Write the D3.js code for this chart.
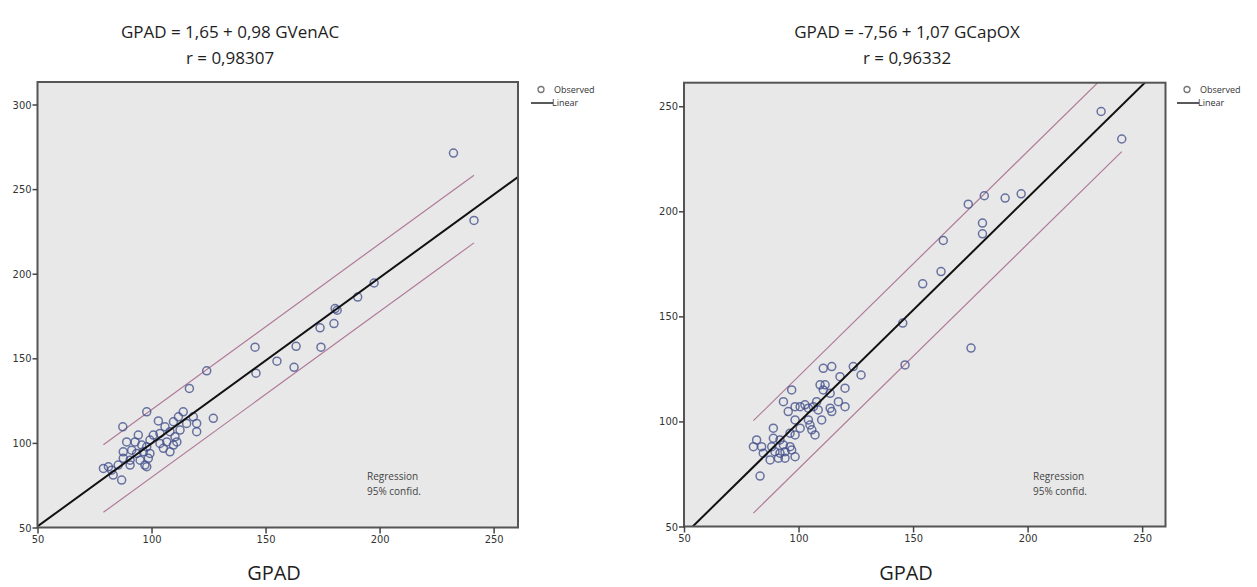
<!DOCTYPE html>
<html>
<head>
<meta charset="utf-8">
<script src="https://cdn.jsdelivr.net/npm/d3@7"></script>
<style>
  body { margin: 0; background: #fff; }
  svg { display: block; font-family: "Open Sans", sans-serif; }
</style>
</head>
<body>
<svg id="chart" width="1257" height="587"></svg>
<script>
// values
const leftX = [124.2, 116.6, 97.9, 87.4, 127.1, 103.0, 113.9, 111.8, 118.3, 109.6, 115.4, 119.8, 119.8, 105.9,
  108.1, 112.5, 110.3, 103.7, 100.8, 99.3, 94.2, 89.1, 92.8, 95.7, 97.9, 103.7, 106.7, 109.6, 105.2, 108.1,
  111.1, 87.6, 91.3, 93.5, 96.4, 99.3, 87.6, 90.6, 95.0, 98.6, 97.1, 97.9, 78.9, 81.1, 82.5, 83.2, 86.9,
  90.6, 85.4, 232.4, 241.4, 197.6, 190.4, 180.5, 181.4, 180.0, 173.9, 145.4, 145.8, 155.0, 163.4, 162.5, 174.3]
const leftY = [142.6, 132.2, 118.4, 109.5, 114.5, 113.0, 118.4, 115.4, 115.4, 112.5, 111.5, 111.5, 106.6, 109.5,
  106.6, 107.6, 103.6, 105.6, 104.6, 101.7, 104.6, 100.6, 100.6, 98.7, 97.7, 99.7, 100.6, 98.7, 96.8, 94.7,
  100.6, 94.7, 95.7, 93.8, 94.7, 93.8, 90.9, 89.8, 89.8, 90.9, 86.9, 85.9, 84.9, 85.9, 83.9, 81.0, 78.0,
  86.9, 86.9, 271.3, 231.5, 194.5, 186.2, 179.4, 178.4, 170.5, 168.0, 156.6, 141.2, 148.3, 157.1, 144.7, 156.6]

const rightX = [232.1, 241.1, 174.1, 181.1, 190.2, 197.2, 180.3, 180.3, 163.2, 162.2, 154.2, 145.5, 175.3, 146.5,
  110.8, 114.5, 123.9, 127.3, 118.1, 120.3, 109.4, 111.6, 110.8, 113.8, 117.4, 120.3, 113.8, 114.5, 107.9,
  108.6, 110.1, 97.0, 93.4, 95.5, 98.5, 100.7, 102.8, 104.3, 106.5, 98.5, 104.3, 105.0, 100.7, 105.8, 107.2,
  98.5, 96.3, 89.0, 89.0, 91.9, 81.7, 80.3, 83.9, 88.3, 93.4, 96.3, 84.6, 89.7, 91.9, 94.1, 97.0, 87.6,
  91.2, 94.1, 98.5, 83.2]
const rightY = [247.5, 234.4, 203.4, 207.4, 206.3, 208.3, 194.4, 189.3, 186.1, 171.3, 165.5, 146.8, 134.9, 126.9,
  125.3, 126.1, 126.1, 122.1, 121.3, 115.8, 117.4, 117.4, 115.0, 113.4, 109.4, 107.0, 106.3, 104.7, 109.4,
  105.5, 100.7, 115.0, 109.4, 104.7, 107.0, 107.0, 107.9, 106.3, 107.0, 100.7, 100.7, 98.3, 96.8, 96.0, 93.6,
  93.6, 94.4, 96.8, 92.0, 91.2, 91.2, 88.0, 88.0, 88.0, 88.8, 88.0, 84.9, 85.6, 84.9, 85.6, 86.4, 81.7,
  82.5, 82.5, 83.2, 74.0]

// fit coefficients (intercept, slope) and 95% band half width
const leftCoef = [1.65, 0.98]
const rightCoef = [-7.56, 1.07]
const leftBand = 20
const rightBand = 22

const leftTitle = ["GPAD = 1,65 + 0,98 GVenAC", "r = 0,98307"]
const rightTitle = ["GPAD = -7,56 + 1,07 GCapOX", "r = 0,96332"]
const xTicks = [50, 100, 150, 200, 250]
const leftYTicks = [50, 100, 150, 200, 250, 300]
const rightYTicks = [50, 100, 150, 200, 250]
const legendLabels = ["Observed", "Linear"]
const noteLines = ["Regression", "95% confid."]

const svg = d3.select("#chart")

const drawPanel = (id, cfg) => {
    const {xs, ys, coef, band, title, yTicks, box, xMax, yMax, legendX, noteX, titleX, labelX} = cfg
    const g = svg.append("g")
    const width = box.x1 - box.x0,
        height = box.y1 - box.y0

    const xScale = d3.scaleLinear().domain([50, xMax]).range([box.x0, box.x1])
    const yScale = d3.scaleLinear().domain([50, yMax]).range([box.y1, box.y0])

    // titles
    g.selectAll("text.title")
        .data(title)
        .enter().append("text")
        .attr("x", titleX)
        .attr("y", (d, i) => 38 + i * 26)
        .attr("text-anchor", "middle")
        .attr("font-size", 17)
        .attr("fill", "#1e1e1e")
        .text(d => d)

    // plot area
    g.append("rect")
        .attr("x", box.x0).attr("y", box.y0)
        .attr("width", width).attr("height", height)
        .attr("fill", "#e8e8e8")

    g.append("clipPath").attr("id", "clip" + id)
        .append("rect")
        .attr("x", box.x0).attr("y", box.y0)
        .attr("width", width).attr("height", height)

    const inner = g.append("g").attr("clip-path", `url(#clip${id})`)

    const line = d3.line().x(d => xScale(d[0])).y(d => yScale(d[1]))
    const fit = x => coef[0] + coef[1] * x
    const [lo, hi] = d3.extent(xs)

    // 95% band
    inner.selectAll("path.band")
        .data([band, -band])
        .enter().append("path")
        .attr("d", b => line([[lo, fit(lo) + b], [hi, fit(hi) + b]]))
        .attr("fill", "none")
        .attr("stroke", "#b07a98")
        .attr("stroke-width", 1.2)

    // points
    inner.selectAll("circle")
        .data(d3.zip(xs, ys))
        .enter().append("circle")
        .attr("cx", d => xScale(d[0]))
        .attr("cy", d => yScale(d[1]))
        .attr("r", 4)
        .attr("fill", "none")
        .attr("stroke", "#434f8a")
        .attr("stroke-opacity", 0.78)
        .attr("stroke-width", 1.5)

    // regression line
    inner.append("path")
        .attr("d", line([[40, fit(40)], [xMax + 10, fit(xMax + 10)]]))
        .attr("fill", "none")
        .attr("stroke", "#111")
        .attr("stroke-width", 2)

    // frame
    g.append("rect")
        .attr("x", box.x0).attr("y", box.y0)
        .attr("width", width).attr("height", height)
        .attr("fill", "none")
        .attr("stroke", "#555")
        .attr("stroke-width", 2)

    // axes
    const yAxis = g.append("g")
        .attr("transform", `translate(${box.x0},0)`)
        .call(d3.axisLeft(yScale).tickValues(yTicks).tickSize(5).tickPadding(1))
    const xAxis = g.append("g")
        .attr("transform", `translate(0,${box.y1})`)
        .call(d3.axisBottom(xScale).tickValues(xTicks).tickSize(6).tickPadding(2))
    ;[yAxis, xAxis].forEach(ax => {
        ax.select(".domain").remove()
        ax.selectAll("line").attr("stroke", "#444").attr("stroke-width", 1.5)
        ax.selectAll("text").attr("font-size", 11).attr("fill", "#333")
            .attr("font-family", "'Liberation Sans Narrow', 'DejaVu Sans Condensed', sans-serif")
    })

    // axis title
    g.append("text")
        .attr("x", labelX)
        .attr("y", 580)
        .attr("text-anchor", "middle")
        .attr("font-size", 20)
        .attr("fill", "#1e1e1e")
        .text("GPAD")

    // legend
    const leg = g.append("g").attr("font-size", 9).attr("fill", "#333")
    leg.append("circle")
        .attr("cx", legendX + 10).attr("cy", 89.5).attr("r", 3)
        .attr("fill", "none").attr("stroke", "#777").attr("stroke-width", 1.3)
    leg.append("line")
        .attr("x1", legendX).attr("x2", legendX + 22)
        .attr("y1", 103).attr("y2", 103)
        .attr("stroke", "#222").attr("stroke-width", 1.5)
    leg.selectAll("text")
        .data(legendLabels)
        .enter().append("text")
        .attr("x", (d, i) => legendX + (i ? 21 : 23))
        .attr("y", (d, i) => 92.5 + i * 13)
        .text(d => d)

    // note
    g.selectAll("text.note")
        .data(noteLines)
        .enter().append("text")
        .attr("x", noteX)
        .attr("y", (d, i) => 480 + i * 15)
        .attr("font-size", 10)
        .attr("fill", "#444")
        .text(d => d)
}

drawPanel("L", {
    xs: leftX, ys: leftY, coef: leftCoef, band: leftBand, title: leftTitle, yTicks: leftYTicks,
    box: {x0: 37.5, x1: 518, y0: 82, y1: 527.5}, xMax: 260.7, yMax: 313.3,
    legendX: 531, noteX: 367, titleX: 230, labelX: 274
})
drawPanel("R", {
    xs: rightX, ys: rightY, coef: rightCoef, band: rightBand, title: rightTitle, yTicks: rightYTicks,
    box: {x0: 684, x1: 1165.5, y0: 82.7, y1: 526.5}, xMax: 260.2, yMax: 261.2,
    legendX: 1177, noteX: 1033, titleX: 907, labelX: 906
})
</script>
</body>
</html>
